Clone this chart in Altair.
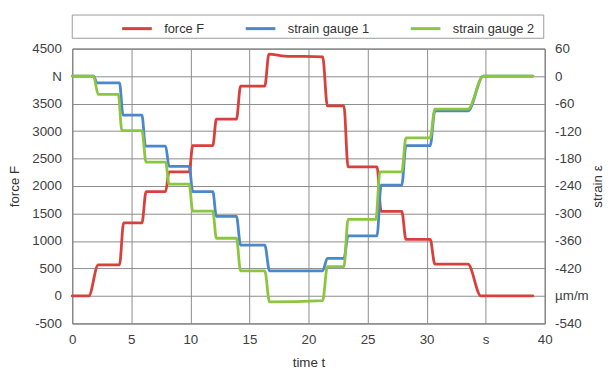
import altair as alt
import pandas as pd

# ---- data ----
t_force = [0, 1.4, 2.2, 4.0, 4.35, 5.9, 6.25, 7.9, 8.2, 9.9, 10.2, 11.9, 12.2, 13.9, 14.25,
           16.3, 16.65, 18.0, 21.2, 21.6, 23.0, 23.35, 25.8, 26.15, 27.9, 28.25, 30.3, 30.7,
           33.5, 34.6, 39.0]
force_N = [0, 0, 567, 567, 1329, 1329, 1898, 1898, 2258, 2258, 2737, 2737, 3217, 3217, 3817,
           3817, 4400, 4365, 4350, 3457, 3457, 2347, 2347, 1538, 1538, 1029, 1029, 579,
           579, 0, 0]

t_gauge1 = [0, 1.8, 2.1, 4.0, 4.3, 5.9, 6.2, 7.9, 8.2, 9.9, 10.2, 11.9, 12.2, 13.9, 14.25,
            16.3, 16.7, 21.2, 21.6, 23.0, 23.35, 25.8, 26.15, 27.9, 28.25, 30.3, 30.7, 33.5,
            34.8, 39.0]
strain_gauge1 = [0, 0, -15, -15, -85, -85, -153, -153, -197, -197, -252, -252, -306, -306, -369,
                 -369, -425, -425, -398, -398, -349, -349, -238, -238, -152, -152, -76, -76,
                 0, 0]

t_gauge2 = [0, 1.8, 2.2, 3.9, 4.2, 5.9, 6.25, 7.9, 8.2, 9.9, 10.2, 11.9, 12.2, 13.9, 14.25,
            16.3, 16.7, 21.2, 21.6, 23.0, 23.35, 25.7, 26.05, 27.9, 28.25, 30.3, 30.7, 33.5,
            34.8, 39.0]
strain_gauge2 = [0, 0, -40, -40, -119, -119, -188, -188, -236, -236, -295, -295, -354, -354, -425,
                 -425, -493, -490, -416, -416, -313, -313, -209, -209, -135, -135, -72, -72,
                 0, 0]

series_names = ["force F", "strain gauge 1", "strain gauge 2"]
series_colors = ["#d8403c", "#4a87cb", "#8cc63f"]

x_ticks = list(range(0, 41, 5))
force_ticks = list(range(-500, 4501, 500))
strain_ticks = list(range(-540, 61, 60))

force_df = pd.DataFrame({"t": t_force, "value": force_N, "series": series_names[0]})
strain_df = pd.concat([
    pd.DataFrame({"t": t_gauge1, "value": strain_gauge1, "series": series_names[1]}),
    pd.DataFrame({"t": t_gauge2, "value": strain_gauge2, "series": series_names[2]}),
], ignore_index=True)

FONT = "Liberation Sans"
W, H = 478, 278

color = alt.Color(
    "series:N",
    scale=alt.Scale(domain=series_names, range=series_colors),
    legend=alt.Legend(
        title=None, orient="none", legendX=49, legendY=-37, direction="horizontal",
        symbolType="stroke", symbolSize=900, symbolStrokeWidth=3, labelOffset=11,
        columnPadding=35, padding=0, labelFont=FONT, labelFontSize=13, labelColor="#333333",
    ),
)

x_enc = alt.X(
    "t:Q",
    scale=alt.Scale(domain=[0, 40], nice=False),
    axis=alt.Axis(
        values=x_ticks, labelExpr="datum.value == 35 ? 's' : '' + datum.value",
        title="time t", titleX=W / 2, titleY=40, titleAngle=0, titleAlign="center",
        titleBaseline="middle", labelPadding=9, grid=True,
    ),
)

box = alt.Chart(pd.DataFrame({"k": [0]})).mark_rect(
    fill="white", stroke="#9a9a9a", strokeWidth=1
).encode(x=alt.value(0), x2=alt.value(477), y=alt.value(-34), y2=alt.value(-10.5))

force_line = alt.Chart(force_df).mark_line(
    strokeWidth=2.8, interpolate="monotone", strokeCap="round"
).encode(
    x=x_enc,
    y=alt.Y(
        "value:Q",
        scale=alt.Scale(domain=[-500, 4500], nice=False, zero=False),
        axis=alt.Axis(
            orient="left", values=force_ticks,
            labelExpr="datum.value == 4000 ? 'N' : '' + datum.value",
            title="force F", titleX=-58, titleY=H / 2, titleAngle=270, titleAlign="center",
            titleBaseline="middle", labelPadding=11, grid=True,
        ),
    ),
    color=color,
)

strain_line = alt.Chart(strain_df).mark_line(
    strokeWidth=2.8, interpolate="monotone", strokeCap="round"
).encode(
    x=x_enc,
    y=alt.Y(
        "value:Q",
        scale=alt.Scale(domain=[-540, 60], nice=False, zero=False),
        axis=alt.Axis(
            orient="right", values=strain_ticks,
            labelExpr="datum.value == -480 ? 'µm/m' : '' + datum.value",
            title="strain ε", titleX=53, titleY=H / 2, titleAngle=270, titleAlign="center",
            titleBaseline="middle", labelPadding=10, grid=False,
        ),
    ),
    color=color,
    order=alt.Order("t:Q"),
)

chart = alt.layer(box, force_line, strain_line).resolve_scale(
    y="independent"
).properties(
    width=W, height=H,
    autosize=alt.AutoSizeParams(type="none"),
    padding={"left": 65, "top": 39, "right": 63, "bottom": 45},
).configure_view(
    stroke="#555555", strokeWidth=1
).configure_axis(
    labelFont=FONT, labelFontSize=13.5, labelColor="#404040",
    titleFont=FONT, titleFontSize=13.5, titleColor="#333333", titleFontWeight="normal",
    domain=False, ticks=False, tickSize=0, labelFlush=False,
    gridColor="#8c8c8c", gridWidth=1, gridOpacity=1,
)

chart.save("out.html", embed_options={"renderer": "svg", "actions": False})
